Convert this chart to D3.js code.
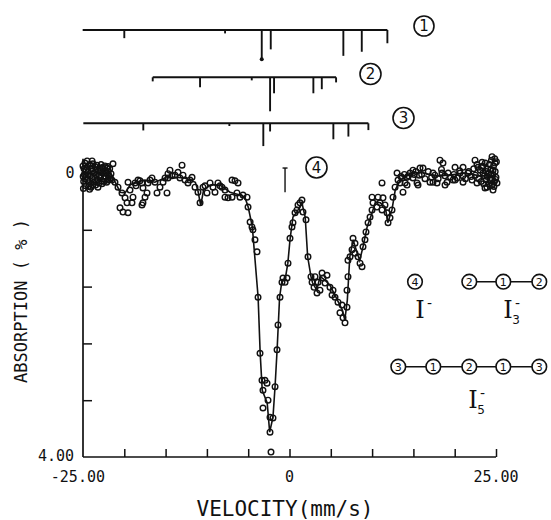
<!DOCTYPE html>
<html>
<head>
<meta charset="utf-8">
<script src="https://cdn.jsdelivr.net/npm/d3@7"></script>
<style>
body { margin: 0; background: #fff; }
text { font-family: "DejaVu Sans Mono", monospace; fill: #111; }
</style>
</head>
<body>
<script>
// measured spectrum points [velocity mm/s, absorption %]
const dataPts = [
  [-25.00,-0.10],[-24.95,0.22],[-24.92,0.12],[-24.85,0.02],[-24.76,-0.14],[-24.68,0.18],[-24.60,0.05],[-24.52,-0.08],
  [-24.50,-0.17],[-24.44,0.10],[-24.36,-0.02],[-24.27,0.15],[-24.20,0.23],[-24.19,-0.12],[-24.11,0.04],[-24.03,0.20],
  [-23.95,-0.06],[-23.90,-0.17],[-23.87,0.08],[-23.79,-0.13],[-23.71,0.13],[-23.63,0.00],[-23.55,-0.09],[-23.47,0.17],
  [-23.39,0.03],[-23.31,-0.11],[-23.23,0.09],[-23.14,-0.03],[-23.06,0.14],[-22.98,-0.07],[-22.90,0.06],[-22.82,-0.12],
  [-22.74,0.11],[-22.66,0.00],[-22.58,-0.08],[-22.50,0.08],[-22.42,-0.03],[-22.34,-0.10],[-22.25,0.05],[-22.17,0.00],
  [-22.09,-0.07],[-22.01,0.10],[-21.93,-0.02],[-21.85,0.04],[-21.77,-0.06],[-21.69,0.07],[-21.61,0.01],[-21.50,0.10],
  [-21.37,-0.13],
  [-24.98,0.05],[-24.88,-0.06],[-24.72,0.08],[-24.64,-0.04],[-24.40,0.02],[-24.31,0.19],[-24.07,-0.10],[-23.83,0.17],
  [-23.75,0.05],[-23.51,0.12],[-23.43,-0.05],[-23.19,0.20],[-23.02,0.04],[-22.86,-0.02],[-22.70,0.15],[-22.46,0.12],
  [-22.30,-0.01],[-22.13,0.13],[-21.97,-0.09],[-21.81,0.09],
  [-21.13,0.13],[-20.76,0.20],[-20.52,0.49],[-20.28,0.28],[-20.16,0.55],[-19.91,0.35],[-19.67,0.42],[-19.55,0.56],
  [-19.55,0.13],[-19.31,0.24],[-19.07,0.42],[-18.95,0.34],[-18.70,0.14],[-18.58,0.18],[-18.34,0.10],[-18.10,0.11],
  [-17.86,0.14],[-17.74,0.21],[-17.49,0.34],[-17.74,0.42],[-17.86,0.45],[-17.25,0.28],[-17.13,0.14],[-16.89,0.10],
  [-16.65,0.07],[-16.28,0.13],[-16.04,0.28],[-15.68,0.20],[-15.31,0.13],[-15.07,0.07],[-14.83,0.28],[-14.71,0.07],
  [-14.71,0.01],[-14.47,-0.04],[-14.22,0.04],[-13.86,0.03],[-13.50,-0.01],[-13.26,0.07],[-13.01,-0.11],[-12.89,0.03],
  [-12.65,0.10],[-12.29,0.14],[-12.05,0.10],[-11.80,0.06],[-11.44,0.20],[-11.08,0.27],[-10.83,0.42],[-10.47,0.20],
  [-10.23,0.18],[-9.99,0.28],[-9.62,0.14],[-9.26,0.20],[-9.02,0.27],[-8.66,0.14],[-8.41,0.18],[-8.17,0.20],
  [-7.81,0.24],[-7.81,0.34],[-7.44,0.35],[-6.96,0.34],[-6.36,0.28],[-5.99,0.34],[-5.63,0.31],[-5.14,0.34],
  [-6.96,0.10],[-6.60,0.11],[-6.23,0.14],
  [-5.02,0.48],[-4.77,0.69],[-4.54,0.76],[-4.42,0.80],[-4.18,0.94],[-3.93,1.11],[-3.81,1.75],[-3.57,2.54],
  [-3.33,2.92],[-3.21,3.06],[-2.97,2.92],[-2.72,2.96],[-3.21,3.31],[-2.60,3.20],[-2.36,3.44],[-2.36,3.65],
  [-2.00,3.45],[-1.75,3.01],[-1.51,2.49],[-1.39,2.14],[-1.15,1.75],[-0.91,1.54],[-0.79,1.48],[-0.54,1.54],
  [-0.30,1.48],[-0.18,1.27],[0.06,0.92],[0.30,0.76],[0.42,0.70],[0.67,0.56],[0.91,0.52],[1.03,0.45],
  [1.27,0.42],[1.51,0.38],[1.63,0.55],[2.00,0.66],[2.24,1.18],[2.60,1.46],[2.73,1.54],[2.97,1.61],
  [3.09,1.46],[3.33,1.69],[3.45,1.54],[3.69,1.65],[3.94,1.41],[4.06,1.48],[4.30,1.55],[4.54,1.44],
  [4.90,1.61],[5.15,1.72],[-2.24,3.93],
  [5.27,1.65],[5.51,1.75],[5.87,1.82],[6.36,1.86],[6.11,1.97],[6.48,2.04],[6.72,2.11],[6.96,1.89],
  [6.96,1.65],[7.08,1.46],[7.08,1.23],[7.33,1.18],[7.57,1.08],[7.69,0.92],[7.93,0.99],[7.93,1.13],
  [8.30,1.18],[8.54,1.27],[8.78,1.32],[8.90,1.04],[9.14,0.94],[9.26,0.83],[9.51,0.70],[9.75,0.62],
  [9.99,0.52],[9.99,0.34],[10.11,0.42],[10.59,0.48],[10.72,0.34],[10.96,0.42],[11.20,0.52],[11.32,0.35],
  [11.56,0.45],[11.81,0.56],[11.93,0.70],[12.17,0.63],[12.41,0.52],[12.53,0.34],[12.78,0.20],[13.02,0.00],
  [13.14,0.10],[13.38,0.14],[13.62,0.07],[13.99,0.14],[14.23,0.06],[14.59,0.00],[11.20,0.14],[15.56,0.17],
  [14.95,-0.04],[15.80,-0.07],[13.50,0.05],[13.90,0.02],[14.40,0.04],[15.10,0.02],[15.30,-0.02],[15.70,0.03],
  [13.74,0.27],[14.23,0.17],[14.95,0.07],[15.44,0.14],[16.16,-0.07],[17.01,0.13],[17.37,0.00],[17.86,0.14],
  [18.46,0.00],[18.58,-0.14],[19.07,0.13],[19.79,0.10],[20.64,0.00],[21.01,0.13],[21.61,0.00],[22.10,0.10],
  [22.70,0.14],[22.82,-0.08],[23.43,0.00],[23.91,0.20],[24.28,0.10],[24.64,0.24],[24.64,-0.04],[24.88,-0.14],
  [25.12,0.14],[18.22,-0.18],[17.37,0.13],[18.83,0.17],[20.04,-0.08],[20.04,0.10],[21.01,-0.08],[22.46,-0.18],
  [23.31,-0.15],[23.67,0.21],[24.52,-0.23],[24.52,0.17],
  [16.00,0.02],[16.40,0.08],[16.80,-0.02],[17.20,0.06],[17.60,0.03],[18.00,0.08],[18.40,-0.05],[18.80,0.04],
  [19.20,0.00],[19.50,0.06],[19.90,0.02],[20.30,0.07],[20.60,-0.03],[21.00,0.04],[21.30,0.08],[21.70,-0.02],
  [22.00,0.05],[22.30,-0.06],[22.50,0.03],[22.70,-0.12],[22.90,0.08],[23.10,-0.04],[23.20,0.12],[23.40,-0.10],
  [23.60,0.04],[23.70,-0.14],[23.80,0.10],[24.00,-0.06],[24.10,0.15],[24.20,-0.12],[24.35,0.02],[24.45,-0.18],
  [24.55,0.08],[24.70,-0.10],[24.80,0.12],[24.90,-0.02],[25.00,0.06],[25.05,-0.16],
  [24.15,0.00],[24.30,0.18],[24.40,-0.05],[24.60,0.02],[24.75,0.19],[24.85,-0.20],[24.95,0.09],[23.50,0.15],
  [23.85,-0.02],[23.95,0.05],[23.25,-0.08]
];

// fitted curve [velocity, absorption]
const fitPts = [
  [-25.00,0.00],[-23.00,0.00],[-21.70,0.00],[-21.10,0.13],[-20.50,0.27],[-19.90,0.28],[-19.30,0.17],[-18.70,0.13],
  [-17.50,0.10],[-16.30,0.13],[-15.10,0.07],[-13.90,0.06],[-12.70,0.07],[-11.40,0.13],[-11.10,0.24],[-10.75,0.46],
  [-10.40,0.24],[-9.60,0.17],[-8.40,0.17],[-7.20,0.27],[-6.00,0.31],[-5.40,0.34],[-5.00,0.48],[-4.50,0.76],
  [-3.80,1.75],[-3.55,2.54],[-3.30,3.06],[-2.70,3.24],[-2.40,3.65],[-2.00,3.44],[-1.75,3.01],[-1.50,2.49],
  [-1.20,1.75],[-0.90,1.51],[-0.50,1.48],[-0.20,1.27],[0.06,0.94],[0.42,0.62],[0.90,0.55],[1.50,0.42],
  [1.90,0.62],[2.20,1.18],[2.60,1.46],[2.80,1.55],[3.30,1.65],[3.70,1.46],[4.30,1.51],[4.90,1.58],
  [5.80,1.79],[6.40,1.93],[6.70,2.07],[7.00,1.79],[7.30,1.18],[7.70,0.94],[8.20,1.13],[8.50,1.23],
  [8.90,1.04],[9.40,0.76],[10.00,0.56],[10.40,0.41],[11.00,0.42],[11.60,0.48],[11.90,0.70],[12.40,0.52],
  [12.80,0.24],[13.40,0.10],[14.60,0.01],[15.80,-0.01],[17.60,0.04],[19.40,0.03],[21.20,0.00],[23.10,0.04],
  [25.00,0.04]
];

// stick diagrams (line positions, relative intensities)
const stick1V = [-20.00, -7.80, -3.36, -2.27, 6.52, 8.75, 11.85];
const stick1I = [24, 10, 86, 57, 76, 64, 39];
const stick2V = [-16.56, -10.83, -4.57, -2.35, -1.87, 2.89, 3.91, 5.64];
const stick2I = [12, 29, 9, 100, 47, 47, 35, 15];
const stick3V = [-17.70, -7.28, -3.17, -2.35, 5.31, 7.13, 9.55];
const stick3I = [21, 8, 67, 24, 47, 39, 20];
const stickStart = [-25.04, -16.56, -24.96];
const stickLabels = ['1', '2', '3'];

const xTicks = [-20, -15, -10, -5, 0, 5, 10, 15, 20, 25];
const yTicks = [0.8, 1.6, 2.4, 3.2];

const W = 551, H = 520;
const svg = d3.select('body').append('svg')
  .attr('width', W).attr('height', H);

const x = d3.scaleLinear().domain([-25, 25]).range([83, 496]);
const y = d3.scaleLinear().domain([0, 4]).range([173, 457]);
const len = d3.scaleLinear().domain([0, 100]).range([0, 34]);

// axes
svg.append('g')
  .attr('transform', 'translate(0,457)')
  .call(d3.axisTop(x).tickValues(xTicks).tickSize(8).tickSizeOuter(0).tickFormat(''))
  .call(g => g.select('.domain').remove())
  .selectAll('line').attr('stroke', '#111').attr('stroke-width', 1.5);
svg.append('line')
  .attr('x1', x(-25)).attr('x2', x(25)).attr('y1', y(4)).attr('y2', y(4))
  .attr('stroke', '#111').attr('stroke-width', 1.7);

svg.append('g')
  .attr('transform', 'translate(83,0)')
  .call(d3.axisRight(y).tickValues(yTicks).tickSize(9).tickSizeOuter(0).tickFormat(''))
  .call(g => g.select('.domain').remove())
  .selectAll('line').attr('stroke', '#111').attr('stroke-width', 1.5);
svg.append('line')
  .attr('x1', x(-25)).attr('x2', x(-25)).attr('y1', y(-0.2)).attr('y2', y(4))
  .attr('stroke', '#111').attr('stroke-width', 1.7);

// tick labels
svg.append('text').attr('x', 105).attr('y', 482).attr('text-anchor', 'end')
  .style('font-size', '15px').text('-25.00');
svg.append('text').attr('x', x(0)).attr('y', 482).attr('text-anchor', 'middle')
  .style('font-size', '15px').text('0');
svg.append('text').attr('x', x(25)).attr('y', 482).attr('text-anchor', 'middle')
  .style('font-size', '15px').text('25.00');
svg.append('text').attr('x', 70).attr('y', y(0) + 5).attr('text-anchor', 'middle')
  .style('font-size', '15px').text('0');
svg.append('text').attr('x', 74).attr('y', y(4) + 4).attr('text-anchor', 'end')
  .style('font-size', '15px').text('4.00');

// axis titles
svg.append('text')
  .attr('transform', 'translate(27,301) rotate(-90)')
  .attr('text-anchor', 'middle')
  .style('font-size', '17px')
  .text('ABSORPTION ( % )');
svg.append('text')
  .attr('x', 285).attr('y', 516).attr('text-anchor', 'middle')
  .style('font-size', '21px')
  .text('VELOCITY(mm/s)');

// data and fit
const plot = svg.append('g');
plot.selectAll('circle.pt')
  .data(dataPts)
  .enter().append('circle')
  .attr('class', 'pt')
  .attr('cx', d => x(d[0]))
  .attr('cy', d => y(d[1]))
  .attr('r', 2.8)
  .attr('fill', 'none')
  .attr('stroke', '#111')
  .attr('stroke-width', 1.4);

const line = d3.line().x(d => x(d[0])).y(d => y(d[1]));
plot.append('path')
  .datum(fitPts)
  .attr('d', line)
  .attr('fill', 'none')
  .attr('stroke', '#111')
  .attr('stroke-width', 1.6);

// error bar marker
svg.append('line').attr('x1', x(-0.54)).attr('x2', x(-0.54))
  .attr('y1', y(-0.07)).attr('y2', y(0.27))
  .attr('stroke', '#111').attr('stroke-width', 1.4);
svg.append('line').attr('x1', x(-0.54) - 2.5).attr('x2', x(-0.54) + 2.5)
  .attr('y1', y(-0.07)).attr('y2', y(-0.07))
  .attr('stroke', '#111').attr('stroke-width', 1.4);

// stick diagrams
const stickSets = [
  { v: stick1V, i: stick1I, y0: 30, start: stickStart[0] },
  { v: stick2V, i: stick2I, y0: 77.3, start: stickStart[1] },
  { v: stick3V, i: stick3I, y0: 123.3, start: stickStart[2] }
];
stickSets.forEach((s, k) => {
  const g = svg.append('g');
  g.append('line')
    .attr('x1', x(s.start)).attr('x2', x(d3.max(s.v)))
    .attr('y1', s.y0).attr('y2', s.y0)
    .attr('stroke', '#111').attr('stroke-width', 1.9);
  g.selectAll('line.stick')
    .data(s.v)
    .enter().append('line')
    .attr('class', 'stick')
    .attr('x1', d => x(d)).attr('x2', d => x(d))
    .attr('y1', s.y0)
    .attr('y2', (d, j) => s.y0 + len(s.i[j]))
    .attr('stroke', '#111').attr('stroke-width', 1.9);
});
// dot on the strongest line of set 1
svg.append('circle').attr('cx', x(stick1V[2])).attr('cy', 30 + len(stick1I[2]))
  .attr('r', 2).attr('fill', '#111');

// circled labels
function circled(cx, cy, r, label, fs) {
  svg.append('circle').attr('cx', cx).attr('cy', cy).attr('r', r)
    .attr('fill', '#fff').attr('stroke', '#111').attr('stroke-width', 1.6);
  svg.append('text').attr('x', cx).attr('y', cy + fs * 0.36)
    .attr('text-anchor', 'middle')
    .style('font-family', '"DejaVu Sans", sans-serif')
    .style('font-size', fs + 'px').text(label);
}
circled(424, 26, 10, stickLabels[0], 15);
circled(370.5, 74, 10.5, stickLabels[1], 15);
circled(403.5, 118, 10.5, stickLabels[2], 15);
circled(316.5, 167.5, 10.5, '4', 15);

// molecule sketches
function chain(xs, cy, labels) {
  svg.append('line').attr('x1', xs[0]).attr('x2', xs[xs.length - 1])
    .attr('y1', cy).attr('y2', cy).attr('stroke', '#111').attr('stroke-width', 1.5);
  xs.forEach((cx, j) => circled(cx, cy, 7.3, labels[j], 11));
}
chain([415], 281.7, ['4']);
chain([469.3, 503.3, 539.3], 281.7, ['2', '1', '2']);
chain([398.3, 433.3, 469.3, 503.3, 539.3], 366.7, ['3', '1', '2', '1', '3']);

function iodide(cx, base, sub) {
  svg.append('text').attr('x', cx).attr('y', base)
    .attr('text-anchor', 'middle')
    .style('font-family', '"DejaVu Serif", serif')
    .style('font-size', '24px').text('I');
  svg.append('text').attr('x', cx + 9.5).attr('y', base - 10)
    .attr('text-anchor', 'middle')
    .style('font-family', '"DejaVu Sans", sans-serif')
    .style('font-size', '14px').text('-');
  if (sub) {
    svg.append('text').attr('x', cx + 8).attr('y', base + 6)
      .attr('text-anchor', 'middle')
      .style('font-family', '"DejaVu Sans", sans-serif')
      .style('font-size', '12px').text(sub);
  }
}
iodide(420, 318, null);
iodide(508, 318, '3');
iodide(473, 408, '5');
</script>
</body>
</html>
